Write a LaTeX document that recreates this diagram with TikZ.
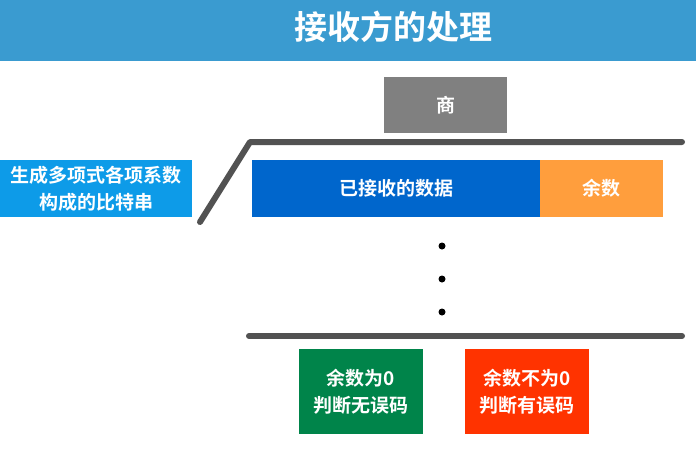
\documentclass[tikz,border=0pt]{standalone}
\usepackage{fontspec}
\newfontfamily\cjk{Noto Sans CJK SC}[BoldFont={Noto Sans CJK SC Bold}]
\begin{document}
\begin{tikzpicture}[x=1pt,y=-1pt,
  box/.style={draw=none,inner sep=0pt,font=\cjk\bfseries\fontsize{19}{27}\selectfont,text=white,align=center},
  bar/.style={line width=6pt,draw=black!68,line cap=round,line join=round},
  dotmark/.style={circle,fill=black,inner sep=0pt,minimum size=7pt}]
\useasboundingbox (0,0) rectangle (696,451);
\fill[white] (0,0) rectangle (696,451);
\fill[fill={rgb,255:red,58;green,155;blue,208}] (0,0) rectangle (696,61);
\node[box,font=\cjk\bfseries\fontsize{33}{36}\selectfont] (title) at (393,27) {接收方的处理};
\node[box,fill={rgb,255:red,128;green,128;blue,128},minimum width=123pt,minimum height=56pt] (quot) at (445.5,105) {商};
\node[box,fill={rgb,255:red,13;green,155;blue,232},minimum width=192pt,minimum height=57pt] (poly) at (96,188.5) {生成多项式各项系数\\构成的比特串};
\node[box,fill={rgb,255:red,0;green,102;blue,204},minimum width=288pt,minimum height=57pt] (data) at (396,188.5) {已接收的数据};
\node[box,fill={rgb,255:red,255;green,158;blue,61},minimum width=123pt,minimum height=57pt] (rem) at (601.5,188.5) {余数};
\coordinate (d0) at (200,222);
\coordinate (d1) at (250,142);
\coordinate (d2) at (682,142);
\draw[bar] (d0) -- (d1) -- (d2);
\node[dotmark] (p1) at (442,246) {};
\node[dotmark] (p2) at (442,279) {};
\node[dotmark] (p3) at (442,312) {};
\coordinate (b0) at (249,336);
\coordinate (b1) at (682,336);
\draw[bar] (b0) -- (b1);
\node[box,fill={rgb,255:red,0;green,132;blue,74},minimum width=124pt,minimum height=85pt] (ok) at (361,391.5) {余数为0\\判断无误码};
\node[box,fill={rgb,255:red,255;green,51;blue,0},minimum width=124pt,minimum height=85pt] (err) at (527,391.5) {余数不为0\\判断有误码};
\end{tikzpicture}
\end{document}
